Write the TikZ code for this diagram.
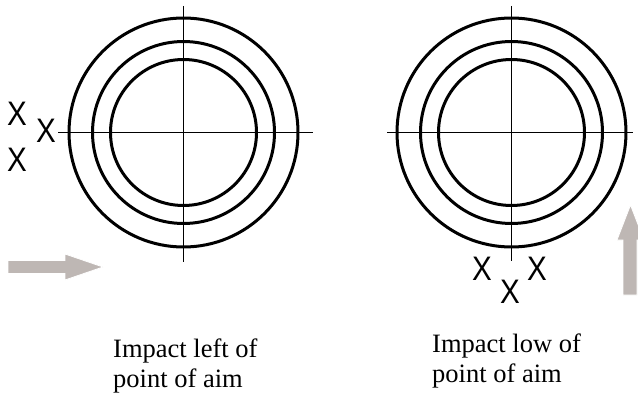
\documentclass[tikz,border=0pt]{standalone}
\usepackage{fontspec}
\setmainfont{Liberation Serif}
\newfontfamily\xfont{Liberation Sans}
\usepackage{graphicx}
\begin{document}
\begin{tikzpicture}[x=1pt,y=-1pt,
  ring/.style={line width=3pt},
  cross/.style={line width=1.6pt},
  hitmark/.style={font=\xfont\fontsize{34}{34}\selectfont, inner sep=0pt},
  captxt/.style={font=\fontsize{26.5}{30}\selectfont, inner sep=0pt, anchor=base west},
  blockarrow/.style={fill={rgb,255:red,190;green,183;blue,180}, draw=white, line width=0.8pt}]
\useasboundingbox (0,0) rectangle (638,396);
% left target
\coordinate (c1) at (183.5,132.5);
\coordinate (c1n) at (183.5,6);
\coordinate (c1s) at (183.5,262);
\coordinate (c1w) at (58,132.5);
\coordinate (c1e) at (313,132.5);
\draw[ring] (c1) circle[radius=114.5];
\draw[ring] (c1) circle[radius=91];
\draw[ring] (c1) circle[radius=73];
\draw[cross] (c1n) -- (c1s);
\draw[cross] (c1w) -- (c1e);
% right target
\coordinate (c2) at (511.5,132.5);
\coordinate (c2n) at (511.5,6);
\coordinate (c2s) at (511.5,261);
\coordinate (c2w) at (387,132.5);
\coordinate (c2e) at (633,132.5);
\draw[ring] (c2) circle[radius=114.5];
\draw[ring] (c2) circle[radius=91];
\draw[ring] (c2) circle[radius=73];
\draw[cross] (c2n) -- (c2s);
\draw[cross] (c2w) -- (c2e);
% hits
\node[hitmark] (x1) at (17,114) {\scalebox{0.87}[1]{X}};
\node[hitmark] (x2) at (46,131) {\scalebox{0.87}[1]{X}};
\node[hitmark] (x3) at (17,160) {\scalebox{0.87}[1]{X}};
\node[hitmark] (x4) at (482,269) {\scalebox{0.87}[1]{X}};
\node[hitmark] (x5) at (537,269) {\scalebox{0.87}[1]{X}};
\node[hitmark] (x6) at (510,292) {\scalebox{0.87}[1]{X}};
% arrows
\draw[blockarrow] (8,260.5) -- (65,260.5) -- (65,254) -- (103,267) -- (65,280) -- (65,273.5) -- (8,273.5) -- cycle;
\draw[blockarrow] (623,295) -- (623,240) -- (617,240) -- (630.5,205) -- (644,240) -- (637,240) -- (637,295) -- cycle;
% captions
\node[captxt] (t1a) at (113,357) {Impact left of};
\node[captxt] (t1b) at (113,387) {point of aim};
\node[captxt] (t2a) at (432,352) {Impact low of};
\node[captxt] (t2b) at (432,382) {point of aim};
\end{tikzpicture}
\end{document}
